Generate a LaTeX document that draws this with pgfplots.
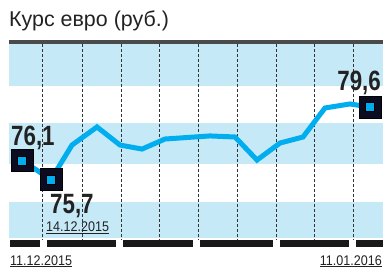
\documentclass[border=0pt]{standalone}
\usepackage{fontspec}
\setmainfont{Liberation Sans}
\newfontfamily\numfont[FakeStretch=0.8]{Liberation Sans}
\newfontfamily\datefont[FakeStretch=0.9]{Liberation Sans}
\usepackage{pgfplots}
\pgfplotsset{compat=1.18}
\definecolor{band}{HTML}{C6E9F8}
\definecolor{cline}{HTML}{00AEEF}
\definecolor{mk}{HTML}{0B0B22}
\definecolor{topbar}{HTML}{4A4A4A}
\definecolor{txt}{HTML}{222222}
\begin{document}
\begin{tikzpicture}
\path[use as bounding box] (0,0) rectangle (386bp,271bp);
\node[anchor=base west, inner sep=0pt, text=txt, font=\fontsize{21.5}{22}\selectfont] at (9bp,244bp) {Курс евро (руб.)};
\begin{axis}[
  at={(9bp,24bp)}, anchor=south west,
  scale only axis, width=374bp, height=207bp,
  xmin=9, xmax=383, ymin=70.5, ymax=83.9,
  axis lines=none, ticks=none, clip=false]
\fill[band] (axis cs:9,83.61) rectangle (axis cs:383,80.92);
\fill[band] (axis cs:9,78.53) rectangle (axis cs:383,75.87);
\fill[band] (axis cs:9,73.41) rectangle (axis cs:383,71.08);
\fill[topbar] (axis cs:9,83.9) rectangle (axis cs:383,83.61);
\fill[black!90] (axis cs:10,70.95) rectangle (axis cs:40,70.5);
\fill[black!90] (axis cs:47,70.95) rectangle (axis cs:116,70.5);
\fill[black!90] (axis cs:123,70.95) rectangle (axis cs:193,70.5);
\fill[black!90] (axis cs:200,70.95) rectangle (axis cs:273,70.5);
\fill[black!90] (axis cs:280,70.95) rectangle (axis cs:349,70.5);
\fill[black!90] (axis cs:356,70.95) rectangle (axis cs:383,70.5);
\begin{scope}[dash pattern=on 3bp off 2bp, line width=0.8bp, black!80]
\draw (axis cs:42,83.61) -- (axis cs:42,70.95);
\draw (axis cs:82,83.61) -- (axis cs:82,70.95);
\draw (axis cs:121,83.61) -- (axis cs:121,70.95);
\draw (axis cs:159,83.61) -- (axis cs:159,70.95);
\draw (axis cs:198,83.61) -- (axis cs:198,70.95);
\draw (axis cs:237,83.61) -- (axis cs:237,70.95);
\draw (axis cs:276,83.61) -- (axis cs:276,70.95);
\draw (axis cs:314,83.61) -- (axis cs:314,70.95);
\draw (axis cs:353,83.61) -- (axis cs:353,70.95);
\end{scope}
\addplot[cline, line width=5bp, mark=none] coordinates {
(22,76.1) (51,74.87) (72,77.10) (97,78.27) (120,77.10) (142,76.84) (165,77.49)
(210,77.69) (235,77.62) (257,76.13) (280,77.23) (303,77.62) (325,79.50) (350,79.76) (370,79.56)};
\addplot[only marks, mark=square*, mark size=10.8bp, mark options={fill=mk, draw=none}] coordinates {(22,76.1) (51,74.87) (370,79.56)};
\addplot[only marks, mark=square*, mark size=4.6bp, mark options={fill=cline, draw=none}] coordinates {(22,76.1) (51,74.87) (370,79.56)};
\node[anchor=base west, inner sep=0pt, text=txt, font=\numfont\bfseries\fontsize{28}{28}\selectfont] at (axis cs:11,77.10) {76,1};
\node[anchor=base west, inner sep=0pt, text=txt, font=\numfont\bfseries\fontsize{28}{28}\selectfont] at (axis cs:50,72.70) {75,7};
\node[anchor=base east, inner sep=0pt, text=txt, font=\numfont\bfseries\fontsize{28}{28}\selectfont] at (axis cs:381,80.66) {79,6};
\node[anchor=base west, inner sep=0pt, text=txt, font=\datefont\fontsize{14}{14}\selectfont] at (axis cs:46,71.48) {\underline{14.12.2015}};
\end{axis}
\node[anchor=base west, inner sep=0pt, text=txt, font=\datefont\fontsize{14}{14}\selectfont] at (10bp,6bp) {\underline{11.12.2015}};
\node[anchor=base east, inner sep=0pt, text=txt, font=\datefont\fontsize{14}{14}\selectfont] at (382bp,6bp) {\underline{11.01.2016}};
\end{tikzpicture}
\end{document}
